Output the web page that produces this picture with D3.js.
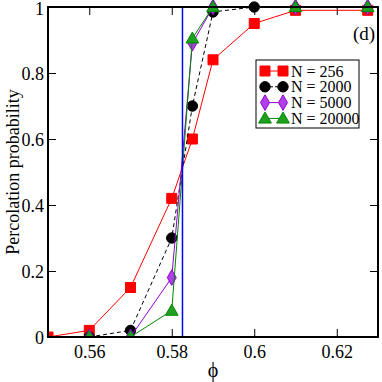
<!DOCTYPE html>
<html>
<head>
<meta charset="utf-8">
<script src="https://cdn.jsdelivr.net/npm/d3@7"></script>
<style>
  body { margin: 0; background: #fff; }
  svg text { font-family: "Liberation Serif", "Times New Roman", serif; }
</style>
</head>
<body>
<svg id="chart" width="382" height="382" font-family="Liberation Serif"></svg>
<script>
const width = 382, height = 382;
const margin = { top: 7, right: 4, bottom: 45, left: 48 };
const serif = "Liberation Serif";

// data
const phi256 = [0.55, 0.56, 0.57, 0.58, 0.585, 0.59, 0.60, 0.61, 0.6275];
const p256   = [0.00, 0.02, 0.15, 0.42, 0.60, 0.84, 0.95, 0.99, 0.99];
const phi2000 = [0.56, 0.57, 0.58, 0.585, 0.59, 0.60];
const p2000   = [0.00, 0.02, 0.30, 0.70, 0.985, 1.00];
const phi5000 = [0.56, 0.57, 0.58, 0.585, 0.59, 0.61, 0.6275];
const p5000   = [0.00, 0.00, 0.18, 0.89, 1.00, 1.00, 1.00];
const phi20000 = [0.56, 0.57, 0.58, 0.585, 0.59, 0.61, 0.6275];
const p20000   = [0.00, 0.00, 0.08, 0.905, 1.00, 1.00, 1.00];
const phiC = 0.5826;
const xTicks = [0.56, 0.58, 0.60, 0.62];
const yTicks = [0, 0.2, 0.4, 0.6, 0.8, 1];
const seriesNames = ["N = 256", "N = 2000", "N = 5000", "N = 20000"];

const series = [
    { name: seriesNames[0], xs: phi256, ys: p256, color: "#ff0000", fill: "#ff0000", dash: null, sym: d3.symbolSquare, size: 100 },
    { name: seriesNames[1], xs: phi2000, ys: p2000, color: "#000000", fill: "#000000", dash: "4,3", sym: d3.symbolCircle, size: 85 },
    { name: seriesNames[2], xs: phi5000, ys: p5000, color: "#9400d3", fill: "#b040e8", dash: null, sym: d3.symbolDiamond, size: 70 },
    { name: seriesNames[3], xs: phi20000, ys: p20000, color: "#008800", fill: "#20a020", dash: null, sym: d3.symbolTriangle, size: 70 }
];

const svg = d3.select("#chart");

const x = d3.scaleLinear().domain([0.55, 0.63]).range([margin.left, width - margin.right]);
const y = d3.scaleLinear().domain([0, 1]).range([height - margin.bottom, margin.top]);

svg.append("clipPath").attr("id", "clip")
    .append("rect")
    .attr("x", x(0.55)).attr("y", y(1) - 8)
    .attr("width", x(0.63) - x(0.55)).attr("height", y(0) - y(1) + 8);

// axes with inward ticks on all four sides
const fmt = d => d === 0 ? "0" : d === 1 ? "1" : String(+d.toFixed(2));
const minorX = d3.range(0.55, 0.6301, 0.01);
const minorY = d3.range(0, 1.001, 0.1);

function tickAxis(axis, ticks, len, show) {
    return axis.tickValues(ticks).tickSizeInner(-len).tickSizeOuter(0)
        .tickFormat(show ? fmt : "");
}

const axBottom = svg.append("g").attr("transform", `translate(0,${y(0)})`);
axBottom.call(tickAxis(d3.axisBottom(x), minorX, 4, false));
axBottom.call(tickAxis(d3.axisBottom(x), xTicks, 8, true));
const axTop = svg.append("g").attr("transform", `translate(0,${y(1)})`);
axTop.call(tickAxis(d3.axisTop(x), minorX, 4, false));
axTop.call(tickAxis(d3.axisTop(x), xTicks, 8, false));
const axLeft = svg.append("g").attr("transform", `translate(${x(0.55)},0)`);
axLeft.call(tickAxis(d3.axisLeft(y), minorY, 4, false));
axLeft.call(tickAxis(d3.axisLeft(y), yTicks, 8, true));
const axRight = svg.append("g").attr("transform", `translate(${x(0.63)},0)`);
axRight.call(tickAxis(d3.axisRight(y), minorY, 4, false));
axRight.call(tickAxis(d3.axisRight(y), yTicks, 8, false));

svg.selectAll(".domain").remove();
// axes put font-family="sans-serif" on their groups; take it off
svg.selectAll("g").attr("font-family", null);
svg.selectAll(".tick line").attr("stroke", "#000").attr("stroke-width", 1);
svg.selectAll(".tick text")
    .attr("font-size", 18)
    .attr("fill", "#000");
axBottom.selectAll(".tick text").attr("dy", "0.71em").attr("y", 8);
axLeft.selectAll(".tick text").attr("x", -4).attr("dy", "0.34em");
axLeft.selectAll(".tick text").filter(d => d === 1).attr("dy", "0.42em");

// data lines and markers
const plot = svg.append("g").attr("clip-path", "url(#clip)");
const line = d3.line().x(d => x(d[0])).y(d => y(d[1]));

series.forEach(s => {
    const pts = s.xs.map((v, i) => [v, s.ys[i]]);
    plot.append("path")
        .attr("d", line(pts))
        .attr("fill", "none")
        .attr("stroke", s.color)
        .attr("stroke-width", 1)
        .attr("stroke-dasharray", s.dash);
    plot.selectAll(null)
        .data(pts)
        .enter()
        .append("path")
        .attr("d", d3.symbol().type(s.sym).size(s.size))
        .attr("transform", d => `translate(${x(d[0])},${y(d[1]) + (s.sym === d3.symbolTriangle ? 1 : 0)})`)
        .attr("fill", s.fill)
        .attr("stroke", s.color)
        .attr("stroke-width", 1);
});

// critical point
svg.append("line")
    .attr("x1", x(phiC)).attr("x2", x(phiC))
    .attr("y1", y(0)).attr("y2", y(1))
    .attr("stroke", "#0000ff").attr("stroke-width", 1.5);

// frame
svg.append("rect")
    .attr("x", x(0.55)).attr("y", y(1))
    .attr("width", x(0.63) - x(0.55)).attr("height", y(0) - y(1))
    .attr("fill", "none").attr("stroke", "#000").attr("stroke-width", 2);

// legend
const legend = svg.append("g").attr("transform", "translate(256,60)");
legend.append("rect")
    .attr("width", 103).attr("height", 68)
    .attr("fill", "#fff").attr("stroke", "#000").attr("stroke-width", 1);
series.forEach((s, i) => {
    const row = legend.append("g").attr("transform", `translate(0,${11 + i * 15.8})`);
    row.append("line")
        .attr("x1", 9).attr("x2", 27).attr("y1", 0).attr("y2", 0)
        .attr("stroke", s.color).attr("stroke-width", 1)
        .attr("stroke-dasharray", s.dash ? "3,2" : null);
    [9, 27].forEach(px => {
        row.append("path")
            .attr("d", d3.symbol().type(s.sym).size(s.size))
            .attr("transform", `translate(${px},${s.sym === d3.symbolTriangle ? 1 : 0})`)
            .attr("fill", s.fill).attr("stroke", s.color);
    });
    row.append("text")
        .attr("x", 35).attr("y", 0).attr("dy", "0.35em")
        .attr("font-size", 16)
        .text(s.name);
});

// panel label
svg.append("text")
    .attr("x", 353).attr("y", 40)
    .attr("font-size", 19)
    .text("(d)");

// axis titles
svg.append("text")
    .attr("transform", `translate(13,${(y(0) + y(1)) / 2}) rotate(-90)`)
    .attr("text-anchor", "middle")
    .attr("dy", "0.35em")
    .attr("font-size", 18)
    .text("Percolation probability");

svg.append("text")
    .attr("x", (x(0.55) + x(0.63)) / 2)
    .attr("y", 377)
    .attr("text-anchor", "middle")
    .attr("font-size", 20)
    .text("ϕ");

svg.selectAll("text").attr("font-family", serif).style("font-family", serif);
</script>
</body>
</html>
